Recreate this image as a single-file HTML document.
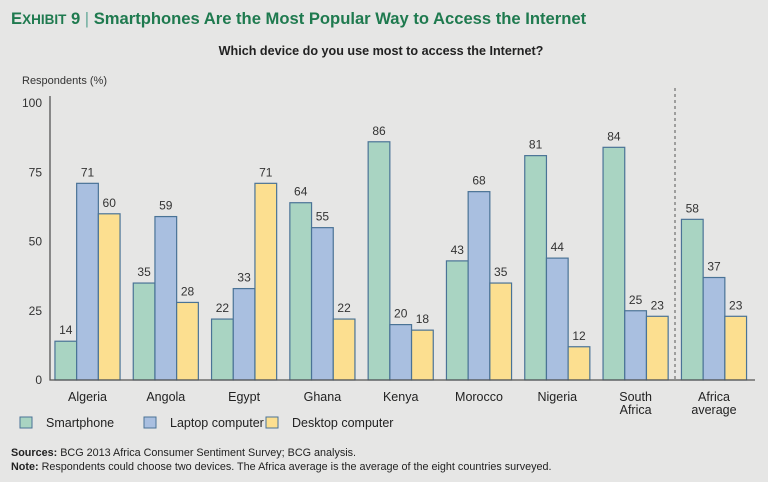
<!DOCTYPE html>
<html><head><meta charset="utf-8"><style>
body{margin:0;background:#e6e6e5;font-family:"Liberation Sans",sans-serif;}
svg{display:block}
</style></head><body>
<svg id="c" width="768" height="482" style="background:#e6e6e5">
<text x="11" y="24" font-size="16.6" font-weight="bold" fill="#1f7a4f">E<tspan font-size="13.5">XHIBIT</tspan> 9 <tspan font-weight="normal" fill="#6a9">|</tspan> Smartphones Are the Most Popular Way to Access the Internet</text>
<text x="381" y="55" font-size="12.6" font-weight="bold" fill="#222" text-anchor="middle">Which device do you use most to access the Internet?</text>
<text x="22" y="84" font-size="11" fill="#333">Respondents (%)</text>
<g id="g"></g>
<text x="11" y="456" font-size="10.8" fill="#222"><tspan font-weight="bold">Sources:</tspan> BCG 2013 Africa Consumer Sentiment Survey; BCG analysis.</text>
<text x="11" y="470" font-size="10.8" fill="#222"><tspan font-weight="bold">Note:</tspan> Respondents could choose two devices. The Africa average is the average of the eight countries surveyed.</text>
</svg>
<script>
const categories=["Algeria","Angola","Egypt","Ghana","Kenya","Morocco","Nigeria","South Africa","Africa average"];
const smartphone=[14,35,22,64,86,43,81,84,58];
const laptop=[71,59,33,55,20,68,44,25,37];
const desktop=[60,28,71,22,18,35,12,23,23];
const yTicks=[0,25,50,75,100];
const seriesNames=["Smartphone","Laptop computer","Desktop computer"];
const colors=["#a9d4c2","#a9bfe0","#fcdf90"];
const NS="http://www.w3.org/2000/svg";
const g=document.getElementById('g');
function y(v){return 380-v*2.77;}
function xc(i){return i<8?87.5+i*78.3:714;}
function el(t,a,txt){const e=document.createElementNS(NS,t);for(const k in a)e.setAttribute(k,a[k]);if(txt!==undefined)e.textContent=txt;g.appendChild(e);return e;}
yTicks.forEach(t=>{const e=el('text',{x:42,y:y(t)+4,'font-size':12,fill:'#333','text-anchor':'end'},t);

});
const series=[smartphone,laptop,desktop];
const bw=21.7;
categories.forEach((c,i)=>{
 series.forEach((s,j)=>{
  const x=xc(i)-1.5*bw+j*bw;
  const r=el('rect',{x:x,y:y(s[i]),width:bw,height:380-y(s[i]),fill:colors[j],stroke:'#4a7396','stroke-width':1.2});
  
  
  const t=el('text',{x:x+bw/2,y:y(s[i])-7,'font-size':12,fill:'#333','text-anchor':'middle'},s[i]);
  
  
 });
 const parts=c==="South Africa"?["South","Africa"]:c==="Africa average"?["Africa","average"]:[c];
 parts.forEach((p,k)=>{const t=el('text',{x:xc(i),y:401+k*13,'font-size':12.5,fill:'#222','text-anchor':'middle'},p);
 
 });
});
const ax=el('path',{d:'M50 96V380H755',stroke:'#555','stroke-width':1.3,fill:'none'});


const dl=el('line',{x1:675,x2:675,y1:88,y2:380,stroke:'#555','stroke-dasharray':'3,3'});


const lx=[20,144,266];
seriesNames.forEach((n,j)=>{
 const r=el('rect',{x:lx[j],y:417,width:12,height:11,fill:colors[j],stroke:'#4a7396'});
 
 
 const t=el('text',{x:lx[j]+26,y:427,'font-size':12.5,fill:'#222'},n);
 
 
});
</script>
</body></html>
